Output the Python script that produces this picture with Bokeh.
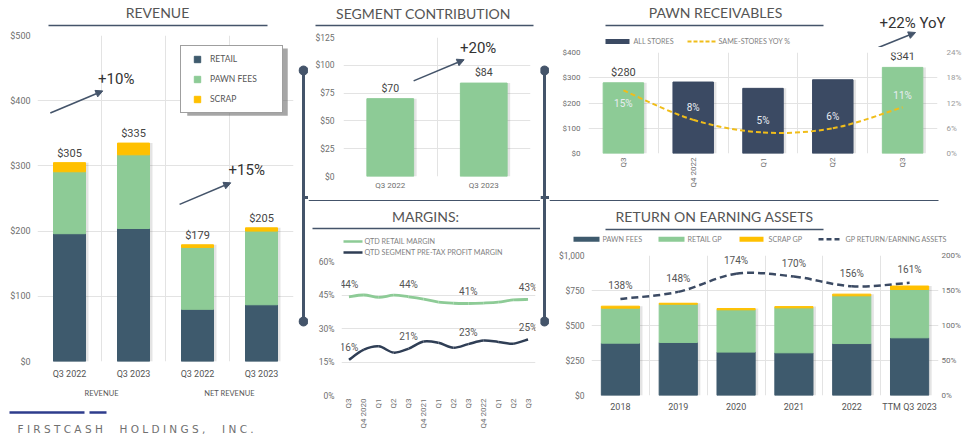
import numpy as np
from bokeh.plotting import figure
from bokeh.layouts import row, column
from bokeh.models import (Range1d, LinearAxis, FixedTicker, SingleIntervalTicker,
                          NumeralTickFormatter, PrintfTickFormatter, ColumnDataSource,
                          Legend, LegendItem, Arrow, NormalHead, BoxAnnotation)
from bokeh.core.properties import value
from bokeh.embed import file_html
from bokeh.resources import INLINE

# ---------------- data ----------------
rev_categories = [("REVENUE", "Q3 2022"), ("REVENUE", "Q3 2023"),
                  ("NET REVENUE", "Q3 2022"), ("NET REVENUE", "Q3 2023")]
rev_retail = [196, 204, 80, 87]
rev_pawn_fees = [95, 113, 95, 113]
rev_scrap = [14, 18, 4, 5]
rev_changes = ["+10%", "+15%"]

seg_periods = ["Q3 2022", "Q3 2023"]
seg_contribution = [70, 84]
seg_change = "+20%"

pawn_quarters = ["Q3", "Q4 2022", "Q1", "Q2", "Q3"]
pawn_receivables = [280, 283, 258, 292, 341]
pawn_same_store_yoy = [15, 8, 5, 6, 11]
pawn_change = "+22% YoY"

margin_quarters = ["Q3", "Q4 2020", "Q1", "Q2", "Q3", "Q4 2021", "Q1", "Q2", "Q3",
                   "Q4 2022", "Q1", "Q2", "Q3"]
retail_margin = [44.2, 45.0, 43.9, 44.9, 44.2, 43.2, 41.8, 41.3, 41.2, 41.4, 41.8, 42.8, 43.0]
segment_margin = [16.0, 20.5, 22.0, 19.2, 21.0, 24.2, 23.6, 21.4, 23.0, 24.6, 24.0, 23.2, 25.1]

roea_years = ["2018", "2019", "2020", "2021", "2022", "TTM Q3 2023"]
roea_pawn_fees = [374, 379, 310, 305, 371, 412]
roea_retail_gp = [250, 273, 302, 321, 341, 345]
roea_scrap_gp = [14, 7, 9, 9, 12, 25]
roea_return = [138, 148, 174, 170, 156, 161]

company = "FIRSTCASH HOLDINGS, INC."

# ---------------- styles ----------------
GREEN = "#8dcb96"
SLATE = "#3e5a6d"
NAVY = "#3b4a63"
GOLD = "#ffc000"
DASH_GOLD = "#f0bd1a"
LINE_DARK = "#2f3e55"
RULE = "#44546a"
GRID = "#e3e3e3"
TXT = "#444444"
AX = "#6e6e6e"
TITLE = "#555555"
LEG = "#7f7f7f"
SHADOW = "#555555"


def no_align(f):
    if "frame_align" in f.properties():
        f.frame_align = False
    return f


def style_axis(ax, size="9px", color=AX, standoff=6, font="Roboto"):
    ax.axis_line_color = None
    ax.major_tick_line_color = None
    ax.minor_tick_line_color = None
    ax.major_tick_out = 0
    ax.major_tick_in = 0
    ax.major_label_text_font = font
    ax.major_label_text_font_size = size
    ax.major_label_text_color = color
    ax.major_label_standoff = standoff


def chart(w, h, xr, yr, left, right, top, bottom):
    p = figure(width=w, height=h, x_range=xr, y_range=yr, toolbar_location=None, tools="",
               output_backend="svg", min_border_left=left, min_border_right=right,
               min_border_top=top, min_border_bottom=bottom, outline_line_color=None)
    p.grid.grid_line_color = GRID
    p.grid.grid_line_width = 1
    return no_align(p)


def decor(w, h):
    f = figure(width=w, height=h, x_range=Range1d(0, w), y_range=Range1d(h, 0),
               x_axis_type=None, y_axis_type=None, toolbar_location=None, tools="",
               output_backend="svg", min_border=0, outline_line_color=None)
    return no_align(f)


def txt(f, x, y, s, size="14px", color=TITLE, font="Lato", align="center"):
    f.text(x=[x], y=[y], text=[s], text_align=align, text_baseline="middle",
           text_font=value(font), text_font_size=size, text_color=color)


def seg(f, x0, y0, x1, y1, color=RULE, width=1.5, dash="solid"):
    f.segment(x0=[x0], y0=[y0], x1=[x1], y1=[y1], line_color=color, line_width=width,
              line_dash=dash)


def arrow(f, xs, ys, xe, ye):
    f.add_layout(Arrow(end=NormalHead(size=7, fill_color=RULE, line_color=RULE),
                       x_start=xs, y_start=ys, x_end=xe, y_end=ye,
                       line_color=RULE, line_width=1.6))


def bezier_line(p, xs, ys, **kw):
    x = np.asarray(xs, float)
    y = np.asarray(ys, float)
    n = len(x)
    px = np.r_[x[0], x, x[-1]]
    py = np.r_[y[0], y, y[-1]]
    d = dict(x0=px[1:n], y0=py[1:n], x1=px[2:n + 1], y1=py[2:n + 1],
             cx0=px[1:n] + (px[2:n + 1] - px[0:n - 1]) / 6,
             cy0=py[1:n] + (py[2:n + 1] - py[0:n - 1]) / 6,
             cx1=px[2:n + 1] - (px[3:n + 2] - px[1:n]) / 6,
             cy1=py[2:n + 1] - (py[3:n + 2] - py[1:n]) / 6)
    return p.bezier(x0="x0", y0="y0", x1="x1", y1="y1", cx0="cx0", cy0="cy0",
                    cx1="cx1", cy1="cy1", source=ColumnDataSource(d), **kw)


def shadow(p, xs, tops, width, frame_w, n, **kw):
    dx = 3.0 * n / frame_w
    p.vbar(x=[x + dx for x in xs], top=tops, width=width, fill_color=SHADOW, fill_alpha=0.16,
           line_color=None, **kw)


# ---------------- Revenue ----------------
n_rev = len(rev_categories)
rev_x = list(range(n_rev))
rev_total = [a + b + c for a, b, c in zip(rev_retail, rev_pawn_fees, rev_scrap)]
rev_src = ColumnDataSource(dict(x=rev_x, retail=rev_retail, pawn=rev_pawn_fees, scrap=rev_scrap,
                                total=rev_total, label=[f"${t}" for t in rev_total]))
p_rev = chart(298, 371, Range1d(-0.5, n_rev - 0.5), Range1d(0, 500), 37, 5, 6, 37)
for ax in p_rev.axis:
    style_axis(ax, standoff=7)
p_rev.yaxis.ticker = SingleIntervalTicker(interval=100, num_minor_ticks=0)
p_rev.yaxis.formatter = NumeralTickFormatter(format="$0")
p_rev.xaxis.ticker = FixedTicker(ticks=rev_x)
p_rev.xaxis.major_label_overrides = {i: c[1] for i, c in enumerate(rev_categories)}
p_rev.xaxis.major_label_text_color = "#555555"
p_rev.xgrid.ticker = FixedTicker(ticks=[i - 0.5 for i in range(n_rev + 1)])
groups = list(dict.fromkeys(c[0] for c in rev_categories))
group_centers = [float(np.mean([i for i, c in enumerate(rev_categories) if c[0] == g])) for g in groups]
gax = LinearAxis(ticker=FixedTicker(ticks=group_centers),
                 major_label_overrides={c: g for c, g in zip(group_centers, groups)})
style_axis(gax, size="7.5px", color="#555555", standoff=7, font="Lato")
p_rev.add_layout(gax, "below")

shadow(p_rev, rev_x, rev_total, 0.5, 256, n_rev)
p_rev.vbar_stack(["retail", "pawn", "scrap"], x="x", width=0.5, color=[SLATE, GREEN, GOLD],
                 source=rev_src)
p_rev.text(x="x", y="total", text="label", source=rev_src, text_align="center",
           text_baseline="bottom", y_offset=-3, text_font=value("Roboto"),
           text_font_size="11px", text_color=TXT)
arrow(p_rev, -0.30, 381, 0.52, 415)
arrow(p_rev, 1.72, 241, 2.52, 274)
p_rev.text(x=[0.73, 2.77], y=[434, 294], text=rev_changes, text_align="center",
           text_baseline="middle", text_font=value("Roboto"), text_font_size="15px",
           text_color="#333333")
items = []
for lab, c in zip(["RETAIL", "PAWN FEES", "SCRAP"], [SLATE, GREEN, GOLD]):
    r = p_rev.scatter(x=[np.nan], y=[np.nan], marker="square", color=c)
    items.append(LegendItem(label=lab, renderers=[r]))
# soft drop shadow behind the legend box
p_rev.add_layout(BoxAnnotation(left=1.84, right=3.41, top=480, bottom=377,
                               fill_color="#6a6a6a", fill_alpha=0.6, line_color=None))
leg = Legend(items=items, location="top_right", margin=10, padding=5, spacing=4,
             glyph_width=22, glyph_height=16, label_height=16, label_standoff=2,
             label_width=67,
             label_text_font="Lato", label_text_font_size="8.5px", label_text_color="#555555",
             border_line_color="#3f3f3f", border_line_width=1.5, background_fill_alpha=1)
p_rev.add_layout(leg)

# ---------------- Segment contribution ----------------
seg_x = list(range(len(seg_periods)))
seg_src = ColumnDataSource(dict(x=seg_x, v=seg_contribution,
                                label=[f"${v}" for v in seg_contribution]))
p_seg = chart(232, 163, Range1d(-0.5, len(seg_x) - 0.5), Range1d(0, 125), 35, 10, 7, 17)
for ax in p_seg.axis:
    style_axis(ax, size="8.5px", standoff=9)
p_seg.xaxis.major_label_standoff = 4
p_seg.xaxis.major_label_text_font_size = "8px"
p_seg.yaxis.ticker = SingleIntervalTicker(interval=25, num_minor_ticks=0)
p_seg.yaxis.formatter = NumeralTickFormatter(format="$0")
p_seg.xaxis.ticker = FixedTicker(ticks=seg_x)
p_seg.xaxis.major_label_overrides = {i: s for i, s in enumerate(seg_periods)}
p_seg.xgrid.ticker = FixedTicker(ticks=[i - 0.5 for i in range(len(seg_x) + 1)])
shadow(p_seg, seg_x, seg_contribution, 0.5, 187, len(seg_x))
p_seg.vbar(x="x", top="v", width=0.5, color=GREEN, source=seg_src)
p_seg.text(x="x", y="v", text="label", source=seg_src, text_align="center",
           text_baseline="bottom", y_offset=-4, text_font=value("Roboto"),
           text_font_size="10.5px", text_color=TXT)
arrow(p_seg, 0.25, 86, 0.79, 105)
p_seg.text(x=[0.94], y=[116], text=[seg_change], text_align="center", text_baseline="middle",
           text_font=value("Roboto"), text_font_size="15px", text_color="#333333")

# ---------------- Pawn receivables ----------------
pawn_x = list(range(len(pawn_quarters)))
pawn_colors = [GREEN if q.startswith("Q3") else NAVY for q in pawn_quarters]
pawn_pct_dy = [13, -12, -12, -12, -12]
pawn_src = ColumnDataSource(dict(
    x=pawn_x, v=pawn_receivables, c=pawn_colors, pct=pawn_same_store_yoy,
    label=[f"${v}" if q.startswith("Q3") else "" for v, q in zip(pawn_receivables, pawn_quarters)],
    plabel=[f"{v}%" for v in pawn_same_store_yoy], dy=pawn_pct_dy))
p_pawn = chart(415, 146, Range1d(-0.5, len(pawn_x) - 0.5), Range1d(0, 400), 39, 26, 5, 40)
p_pawn.extra_y_ranges = {"pct": Range1d(0, 24)}
rax = LinearAxis(y_range_name="pct", ticker=SingleIntervalTicker(interval=6, num_minor_ticks=0),
                 formatter=PrintfTickFormatter(format="%d%%"))
p_pawn.add_layout(rax, "right")
for ax in p_pawn.axis:
    style_axis(ax, size="8px", standoff=8)
rax.major_label_text_color = "#9a9a9a"
rax.major_label_standoff = 9
p_pawn.yaxis[0].ticker = SingleIntervalTicker(interval=100, num_minor_ticks=0)
p_pawn.yaxis[0].formatter = NumeralTickFormatter(format="$0")
p_pawn.xaxis.ticker = FixedTicker(ticks=pawn_x)
p_pawn.xaxis.major_label_overrides = {i: s for i, s in enumerate(pawn_quarters)}
p_pawn.xaxis.major_label_orientation = np.pi / 2
p_pawn.xaxis.major_label_standoff = 4
p_pawn.xgrid.ticker = FixedTicker(ticks=[i - 0.5 for i in range(len(pawn_x) + 1)])
shadow(p_pawn, pawn_x, pawn_receivables, 0.58, 350, len(pawn_x))
p_pawn.vbar(x="x", top="v", width=0.58, color="c", source=pawn_src)
p_pawn.text(x="x", y="v", text="label", source=pawn_src, text_align="center",
            text_baseline="bottom", y_offset=-4, text_font=value("Roboto"),
            text_font_size="11px", text_color=TXT)
bezier_line(p_pawn, pawn_x, pawn_same_store_yoy, y_range_name="pct", line_color=DASH_GOLD,
            line_width=2, line_dash="5 3")
p_pawn.text(x="x", y="pct", text="plabel", source=pawn_src, y_range_name="pct",
            text_align="center", text_baseline="middle", y_offset="dy",
            text_font=value("Roboto"), text_font_size="10px", text_color="#e8edf3")

# ---------------- Margins ----------------
m_x = list(range(len(margin_quarters)))
p_m = chart(232, 180, Range1d(-0.5, len(m_x) - 0.5), Range1d(0, 60), 33, 5, 5, 41)
for ax in p_m.axis:
    style_axis(ax, size="8.5px", standoff=7)
p_m.yaxis.ticker = SingleIntervalTicker(interval=15, num_minor_ticks=0)
p_m.yaxis.formatter = PrintfTickFormatter(format="%d%%")
p_m.xaxis.ticker = FixedTicker(ticks=m_x)
p_m.xaxis.major_label_overrides = {i: s for i, s in enumerate(margin_quarters)}
p_m.xaxis.major_label_orientation = np.pi / 2
p_m.xaxis.major_label_text_font_size = "8px"
p_m.xaxis.major_label_standoff = 3
p_m.xgrid.ticker = FixedTicker(ticks=[-0.5, len(m_x) - 0.5])
bezier_line(p_m, m_x, retail_margin, line_color=GREEN, line_width=2.8)
bezier_line(p_m, m_x, segment_margin, line_color=LINE_DARK, line_width=2.5)
lab_idx = [i for i, q in enumerate(margin_quarters) if q == "Q3"]
m_lab = ColumnDataSource(dict(
    x=lab_idx * 2,
    y=[retail_margin[i] for i in lab_idx] + [segment_margin[i] for i in lab_idx],
    t=[f"{round(retail_margin[i])}%" for i in lab_idx] + [f"{round(segment_margin[i])}%" for i in lab_idx]))
p_m.text(x="x", y="y", text="t", source=m_lab, text_align="center", text_baseline="middle",
         y_offset=-12, text_font=value("Roboto"), text_font_size="10px", text_color="#555555")

# ---------------- Return on earning assets ----------------
r_x = list(range(len(roea_years)))
r_total = [a + b + c for a, b, c in zip(roea_pawn_fees, roea_retail_gp, roea_scrap_gp)]
r_src = ColumnDataSource(dict(x=r_x, pawn=roea_pawn_fees, retail=roea_retail_gp, scrap=roea_scrap_gp,
                              ret=roea_return, t=[f"{v}%" for v in roea_return]))
p_r = chart(415, 189, Range1d(-0.5, len(r_x) - 0.5), Range1d(0, 1000), 42, 26, 8, 41)
p_r.extra_y_ranges = {"pct": Range1d(0, 200)}
rax2 = LinearAxis(y_range_name="pct", ticker=SingleIntervalTicker(interval=50, num_minor_ticks=0),
                  formatter=PrintfTickFormatter(format="%d%%"))
p_r.add_layout(rax2, "right")
for ax in p_r.axis:
    style_axis(ax, size="8.5px", standoff=7)
rax2.major_label_standoff = 3
rax2.major_label_text_font_size = "8px"
p_r.yaxis[0].ticker = SingleIntervalTicker(interval=250, num_minor_ticks=0)
p_r.yaxis[0].formatter = NumeralTickFormatter(format="$0,0")
p_r.xaxis.ticker = FixedTicker(ticks=r_x)
p_r.xaxis.major_label_overrides = {i: s for i, s in enumerate(roea_years)}
p_r.xaxis.major_label_text_font_size = "9px"
p_r.xaxis.major_label_text_color = "#555555"
p_r.xaxis.major_label_standoff = 6
p_r.xgrid.ticker = FixedTicker(ticks=[i - 0.5 for i in range(len(r_x) + 1)])
shadow(p_r, r_x, r_total, 0.66, 347, len(r_x))
p_r.vbar_stack(["pawn", "retail", "scrap"], x="x", width=0.66, color=[SLATE, GREEN, GOLD],
               source=r_src)
bezier_line(p_r, r_x, roea_return, y_range_name="pct", line_color=NAVY, line_width=2.5,
            line_dash="7 4")
p_r.text(x="x", y="ret", text="t", source=r_src, y_range_name="pct", text_align="center",
         text_baseline="middle", y_offset=-13, text_font=value("Roboto"),
         text_font_size="10px", text_color="#555555")

# ---------------- decorations ----------------
NB = "\u00a0"
logo_text = (NB * 5).join(NB.join(list(w)) for w in company.split(" "))

t_rev = decor(298, 29)
txt(t_rev, 157, 12, "REVENUE")
seg(t_rev, 48, 25, 267, 25)

logo = decor(298, 36)
seg(logo, 9, 12, 84, 12, color="#2e3c8c", width=2.5)
seg(logo, 89, 12, 106, 12, color="#2e3c8c", width=2.5)
txt(logo, 17, 28, logo_text, size="10.5px", color="#707070", font="DejaVu Sans", align="left")

v1 = decor(10, 436)
seg(v1, 5, 70, 5, 321, width=3)
seg(v1, 5, 197, 10, 197, width=3)
v1.scatter(x=[5, 5], y=[70, 321], size=9, color=RULE)

t_seg = decor(232, 30)
txt(t_seg, 115, 13, "SEGMENT CONTRIBUTION")
seg(t_seg, 7, 25, 225, 25)

h_b = decor(232, 8)
seg(h_b, 0, 4, 232, 4, width=3)

t_m = decor(232, 55)
txt(t_m, 117, 15, "MARGINS:")
seg(t_m, 4, 27, 232, 27)
seg(t_m, 35, 40, 54, 40, color=GREEN, width=2.5)
txt(t_m, 56, 40, "QTD RETAIL MARGIN", size="7.2px", color=LEG, align="left")
seg(t_m, 35, 51, 54, 51, color=LINE_DARK, width=2.5)
txt(t_m, 56, 51, "QTD SEGMENT PRE-TAX PROFIT MARGIN", size="7.2px", color=LEG, align="left")

v2 = decor(9, 436)
seg(v2, 4, 70, 4, 321, width=3)
seg(v2, 0, 197, 9, 197, width=3)
v2.scatter(x=[4, 4], y=[70, 321], size=9, color=RULE)

t_pawn = decor(415, 47)
txt(t_pawn, 166, 12, "PAWN RECEIVABLES")
seg(t_pawn, 56, 25, 274, 25)
txt(t_pawn, 363, 22, pawn_change, size="15px", color="#333333", font="Roboto")
arrow(t_pawn, 328.9, 47, 366, 32)
seg(t_pawn, 56, 41, 80, 41, color=NAVY, width=5)
txt(t_pawn, 84, 41, "ALL STORES", size="7.2px", color=LEG, align="left")
seg(t_pawn, 138, 41, 167, 41, color=DASH_GOLD, width=2, dash="4 2")
txt(t_pawn, 169, 41, "SAME-STORES YOY %", size="7.2px", color=LEG, align="left")

h_c = decor(415, 8)
seg(h_c, 0, 4, 389, 4, width=3)

t_r = decor(415, 46)
txt(t_r, 165, 15, "RETURN ON EARNING ASSETS")
seg(t_r, 56, 28, 274, 28)
seg(t_r, 24, 37.7, 50, 37.7, color=SLATE, width=5)
txt(t_r, 53, 37.7, "PAWN FEES", size="7.2px", color=LEG, align="left")
seg(t_r, 109, 37.7, 135, 37.7, color=GREEN, width=5)
txt(t_r, 138, 37.7, "RETAIL GP", size="7.2px", color=LEG, align="left")
seg(t_r, 190, 37.7, 214, 37.7, color=GOLD, width=5)
txt(t_r, 219, 37.7, "SCRAP GP", size="7.2px", color=LEG, align="left")
seg(t_r, 269, 37.7, 293, 37.7, color=NAVY, width=2.5, dash="5 3")
txt(t_r, 296, 37.7, "GP RETURN/EARNING ASSETS", size="7.2px", color=LEG, align="left")

col_a = column(t_rev, p_rev, logo)
col_b = column(t_seg, p_seg, h_b, t_m, p_m)
col_c = column(t_pawn, p_pawn, h_c, t_r, p_r)
layout = row(col_a, v1, col_b, v2, col_c)

open("out.html", "w").write(file_html(layout, INLINE))
